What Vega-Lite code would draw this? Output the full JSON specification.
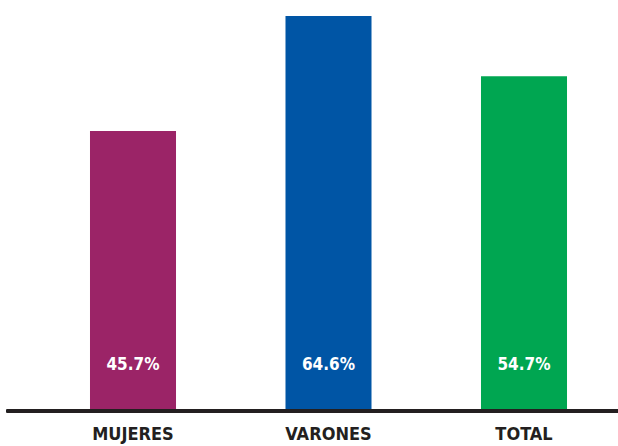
{
  "$schema": "https://vega.github.io/schema/vega-lite/v6.json",
  "width": 610,
  "height": 409,
  "autosize": {"type": "none"},
  "padding": {"left": 8, "top": 0, "right": 0, "bottom": 37},
  "background": "#ffffff",
  "config": {"view": {"stroke": null}},
  "data": {
    "values": [
      {"grupo": "MUJERES", "valor": 45.7, "etiqueta": "45.7%"},
      {"grupo": "VARONES", "valor": 64.6, "etiqueta": "64.6%"},
      {"grupo": "TOTAL", "valor": 54.7, "etiqueta": "54.7%"}
    ]
  },
  "encoding": {
    "x": {
      "field": "grupo",
      "type": "nominal",
      "sort": ["MUJERES", "VARONES", "TOTAL"],
      "scale": {"range": [27.25, 613.75], "paddingInner": 0.56, "paddingOuter": 0.28},
      "axis": {
        "title": null,
        "domain": false,
        "ticks": false,
        "labelAngle": 0,
        "labelFont": "DejaVu Sans Condensed",
        "labelFontWeight": "bold",
        "labelFontSize": 18,
        "labelColor": "#231f20",
        "labelPadding": 16
      }
    }
  },
  "layer": [
    {
      "mark": {"type": "bar"},
      "encoding": {
        "y": {"field": "valor", "type": "quantitative", "scale": {"domain": [0, 67.21], "nice": false}, "axis": null},
        "color": {
          "field": "grupo",
          "type": "nominal",
          "scale": {"domain": ["MUJERES", "VARONES", "TOTAL"], "range": ["#9b2467", "#0055a5", "#00a651"]},
          "legend": null
        }
      }
    },
    {
      "mark": {"type": "text", "font": "DejaVu Sans Condensed", "fontWeight": "bold", "fontSize": 17, "color": "#ffffff", "baseline": "alphabetic", "align": "center", "dy": -39},
      "encoding": {
        "y": {"datum": 0, "type": "quantitative"},
        "text": {"field": "etiqueta"}
      }
    },
    {
      "mark": {"type": "rule", "color": "#231f20", "strokeWidth": 4, "strokeCap": "round", "yOffset": 2},
      "encoding": {"y": {"datum": 0, "type": "quantitative"}, "x": null}
    }
  ]
}
